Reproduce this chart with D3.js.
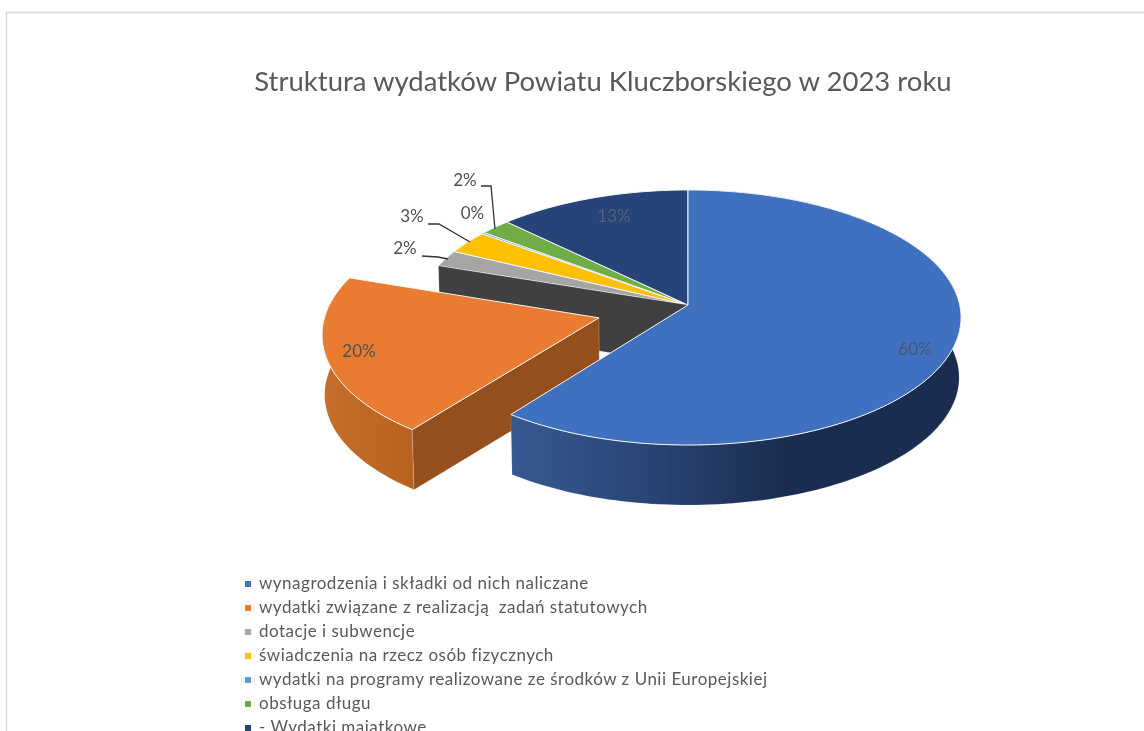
<!DOCTYPE html>
<html>
<head>
<meta charset="utf-8">
<script src="https://d3js.org/d3.v7.min.js"></script>
<style>
    html, body { margin: 0; padding: 0; background: #fff; overflow: hidden; }
    svg { display: block; filter: blur(0.6px); }
    text { font-family: Lato, "Open Sans", sans-serif; white-space: pre; }
</style>
</head>
<body>
<svg id="vis"></svg>
<script>
    // values (labels are the rounded percentages)
    const categories = [
        "wynagrodzenia i składki od nich naliczane",
        "wydatki związane z realizacją  zadań statutowych",
        "dotacje i subwencje",
        "świadczenia na rzecz osób fizycznych",
        "wydatki na programy realizowane ze środków z Unii Europejskiej",
        "obsługa długu",
        "- Wydatki majątkowe"
    ];
    const shares = [60.2, 19.9, 2.1, 2.9, 0.2, 2.0, 12.6];
    const colors = ["#4070c0", "#e97c30", "#a5a5a5", "#ffc000", "#5b9bd5", "#70ad47", "#264478"];
    const titleText = "Struktura wydatków Powiatu Kluczborskiego w 2023 roku";

    let width = 1144, height = 731;
    let svg = d3.select("#vis").attr("width", width).attr("height", height);

    // page frame of the screenshot
    svg.append("path")
        .attr("d", "M6.5,731V12.5H1144")
        .attr("fill", "none")
        .attr("stroke", "#d9d9d9")
        .attr("stroke-width", 1.5);

    svg.append("text")
        .attr("x", 603)
        .attr("y", 91)
        .attr("text-anchor", "middle")
        .attr("font-size", 27.5)
        .attr("fill", "#595959")
        .text(titleText);

    // tilted disc: a = clockwise from 12 o'clock, r = 1 on the rim
    const cx = 688, cy = 305, rx = 271.7, ry = 126.3, persp = -0.098, depth = 60;

    function project(a, r = 1, off = null, h = 0) {
        let u = r * Math.sin(a), v = -r * Math.cos(a);
        if (off) {
            u += off.d * Math.sin(off.a);
            v += -off.d * Math.cos(off.a);
        }
        let w = 1 + persp * v;
        let k = h ? 0.993 : 1;
        return [cx + k * rx * u / w, cy + ry * v / w + h];
    }

    let pieData = d3.pie().sort(null).value(d => d)(shares);
    let line = d3.line();

    function rim(a0, a1, off, h) {
        let n = Math.max(2, Math.ceil((a1 - a0) * 40));
        return d3.range(n + 1).map(i => project(a0 + (a1 - a0) * i / n, 1, off, h));
    }

    function topFace(d, off, fill) {
        let pts = [project(0, 0, off)].concat(rim(d.startAngle, d.endAngle, off, 0));
        svg.append("path")
            .attr("d", line(pts) + "Z")
            .attr("fill", fill)
            .attr("stroke", "#f4f4f4")
            .attr("stroke-width", 1)
            .attr("stroke-linejoin", "round");
    }

    function outerWall(a0, a1, off, fill) {
        let upper = rim(a0, a1, off, 0);
        let lower = rim(a0, a1, off, depth).reverse();
        svg.append("path")
            .attr("d", line(upper.concat(lower)) + "Z")
            .attr("fill", fill)
            .attr("stroke", "#fff")
            .attr("stroke-opacity", 0.25)
            .attr("stroke-width", 0.5);
    }

    function cutWall(a, off, fill) {
        let pts = [project(a, 0, off), project(a, 1, off), project(a, 1, off, depth), project(a, 0, off, depth)];
        svg.append("path")
            .attr("d", line(pts) + "Z")
            .attr("fill", fill)
            .attr("stroke", "#fff")
            .attr("stroke-opacity", 0.5)
            .attr("stroke-width", 0.5);
    }

    // wall gradients
    let defs = svg.append("defs");
    function gradient(id, stops) {
        let g = defs.append("linearGradient").attr("id", id)
            .attr("gradientUnits", "userSpaceOnUse")
            .attr("x1", stops[0][0]).attr("x2", stops[stops.length - 1][0])
            .attr("y1", 0).attr("y2", 0);
        stops.forEach(s => g.append("stop")
            .attr("offset", (s[0] - stops[0][0]) / (stops[stops.length - 1][0] - stops[0][0]))
            .attr("stop-color", s[1]));
    }
    gradient("wallBlue", [[512, "#36598f"], [640, "#2a4677"], [790, "#1a2c4f"], [960, "#1a2c4f"]]);
    gradient("wallOrange", [[320, "#c66e2b"], [415, "#b8621f"]]);

    let blue = pieData[0], orange = pieData[1];
    let midOrange = (orange.startAngle + orange.endAngle) / 2;
    let off = { a: midOrange, d: 0.34 };

    // back slices first, then the dark cut wall where the orange slice left
    pieData.slice(2).forEach((d, i) => topFace(d, null, colors[i + 2]));
    cutWall(orange.endAngle, null, "#404040");

    outerWall(orange.startAngle, orange.endAngle, off, "url(#wallOrange)");
    cutWall(orange.startAngle, off, "#954f1c");
    topFace(orange, off, colors[1]);

    outerWall(blue.startAngle, blue.endAngle, null, "url(#wallBlue)");
    topFace(blue, null, colors[0]);

    // data labels
    const labelPct = shares.map(d => d3.format(".0f")(d) + "%");
    const labelAt = [[915, 355], [359, 357], [405, 254], [412, 222], [472.5, 219], [465, 186], [614, 222]];
    labelPct.forEach((t, i) => {
        svg.append("text")
            .attr("x", labelAt[i][0])
            .attr("y", labelAt[i][1])
            .attr("text-anchor", "middle")
            .attr("font-size", 17)
            .attr("fill", i == 6 ? "#56617a" : i == 0 ? "#4a5570" : "#505050")
            .text(t);
    });

    // leader lines for the small slices
    [[[422, 256], [438, 257], [448, 259]],
     [[428, 224], [439, 224], [470, 242]],
     [[481, 186], [491, 186], [495, 229]]].forEach(p => {
        svg.append("path")
            .attr("d", line(p))
            .attr("fill", "none")
            .attr("stroke", "#333")
            .attr("stroke-width", 1.3);
    });

    // legend, last row runs off the bottom like in the screenshot
    let rowY = d3.scalePoint().domain(categories).range([583, 727]);
    categories.forEach((c, i) => {
        svg.append("rect")
            .attr("x", 245)
            .attr("y", rowY(c) - 2)
            .attr("width", 6)
            .attr("height", 6)
            .attr("fill", colors[i]);
        svg.append("text")
            .attr("x", 259)
            .attr("y", rowY(c) + 6)
            .attr("font-size", 17)
            .attr("letter-spacing", 0.5)
            .attr("fill", "#595959")
            .text(c);
    });
</script>
</body>
</html>
